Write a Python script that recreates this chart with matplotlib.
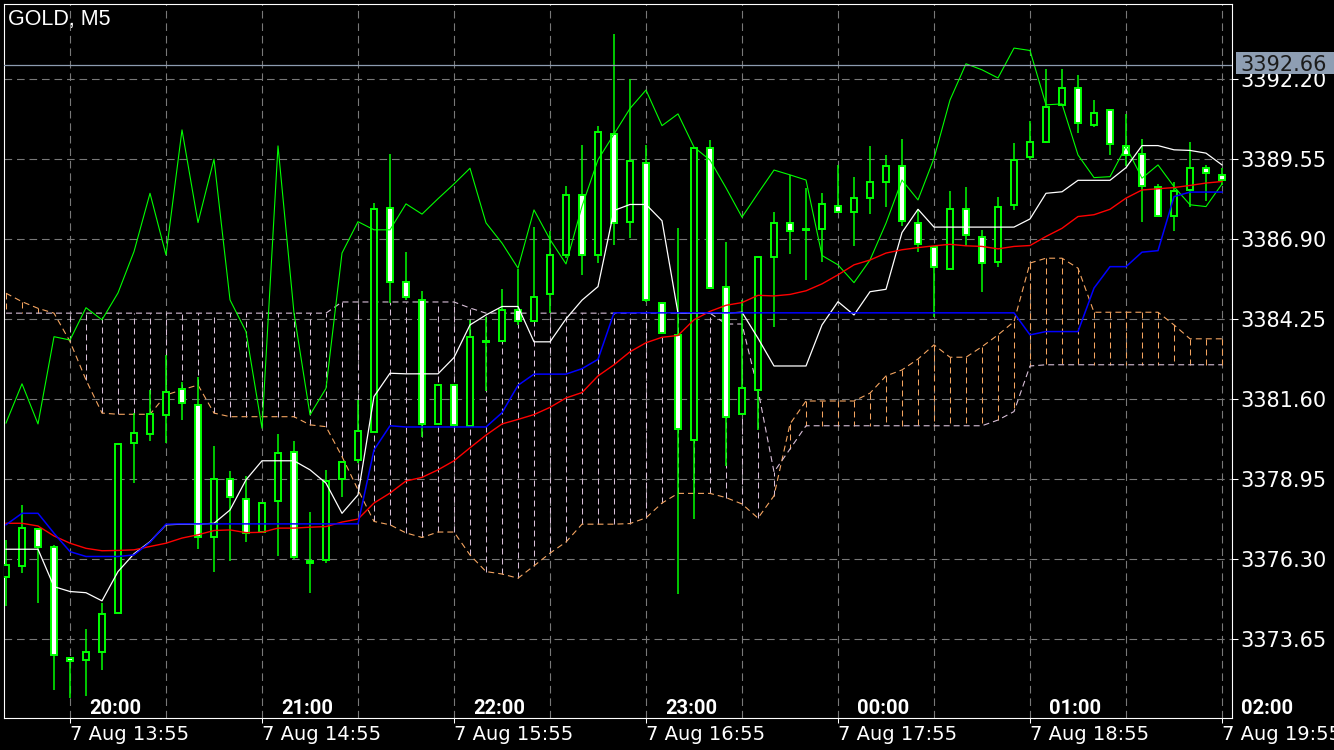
import matplotlib
matplotlib.use("Agg")
import matplotlib.pyplot as plt
from matplotlib.patches import Rectangle

# ---- data (GOLD, M5) ----
o = [3375.69, 3376.08, 3377.28, 3376.71, 3373.03, 3372.94, 3373.21, 3374.50, 3380.13, 3380.43,
     3381.05, 3381.92, 3381.39, 3377.04, 3378.94, 3378.28, 3377.18, 3378.22, 3379.83, 3376.23,
     3376.27, 3378.95, 3379.58, 3380.50, 3387.92, 3385.48, 3384.89, 3380.77, 3382.05, 3380.69,
     3383.50, 3383.52, 3384.56, 3384.17, 3385.09, 3386.37, 3388.35, 3386.37, 3390.37, 3387.46,
     3389.42, 3384.78, 3383.73, 3380.25, 3389.90, 3385.32, 3381.10, 3381.91, 3386.31, 3387.41,
     3387.20, 3387.22, 3388.00, 3387.80, 3388.24, 3388.78, 3389.31, 3387.42, 3386.64, 3385.90,
     3387.88, 3386.96, 3386.13, 3388.03, 3389.61, 3390.12, 3391.34, 3391.89, 3390.67, 3391.16,
     3389.98, 3389.71, 3388.61, 3387.66, 3388.51, 3389.24, 3389.03]
h = [3376.93, 3378.09, 3377.33, 3376.75, 3373.03, 3373.98, 3374.83, 3380.10, 3381.13, 3381.90,
     3383.06, 3382.17, 3382.34, 3380.04, 3379.22, 3379.05, 3378.17, 3380.44, 3380.21, 3377.85,
     3379.25, 3379.52, 3381.57, 3388.10, 3389.72, 3386.47, 3385.17, 3382.05, 3382.05, 3384.22,
     3384.32, 3385.23, 3385.91, 3387.31, 3387.17, 3388.66, 3390.00, 3390.64, 3393.70, 3392.20,
     3390.00, 3384.78, 3387.27, 3389.92, 3390.18, 3386.81, 3384.87, 3386.31, 3387.79, 3389.02,
     3388.58, 3388.41, 3389.35, 3388.96, 3389.98, 3389.68, 3390.20, 3387.89, 3386.64, 3388.47,
     3388.63, 3387.20, 3388.30, 3390.07, 3390.79, 3392.53, 3392.53, 3392.33, 3391.50, 3391.16,
     3391.04, 3390.21, 3388.72, 3388.77, 3390.12, 3389.35, 3389.24]
l = [3374.74, 3375.83, 3374.83, 3371.96, 3371.69, 3371.77, 3372.62, 3374.50, 3378.81, 3380.19,
     3380.13, 3380.90, 3376.62, 3375.88, 3376.24, 3376.87, 3377.18, 3376.38, 3376.29, 3375.16,
     3376.16, 3378.36, 3379.48, 3380.50, 3384.77, 3384.88, 3380.34, 3380.77, 3380.74, 3380.69,
     3381.87, 3383.50, 3384.05, 3384.15, 3384.45, 3386.27, 3385.72, 3386.09, 3386.70, 3386.92,
     3384.81, 3383.79, 3375.15, 3377.61, 3385.25, 3379.38, 3381.10, 3380.57, 3383.98, 3386.39,
     3385.54, 3386.15, 3387.75, 3386.65, 3387.73, 3387.94, 3387.34, 3386.48, 3384.31, 3385.90,
     3386.65, 3385.15, 3385.98, 3387.86, 3389.52, 3390.07, 3391.34, 3390.40, 3390.60, 3389.68,
     3389.30, 3387.47, 3387.66, 3387.17, 3387.97, 3388.14, 3388.67]
c = [3376.10, 3377.32, 3376.71, 3373.12, 3372.92, 3373.21, 3374.47, 3380.10, 3380.46, 3381.09,
     3381.84, 3381.46, 3377.02, 3378.94, 3378.34, 3377.15, 3378.15, 3379.80, 3376.36, 3376.16,
     3378.87, 3379.52, 3380.52, 3387.89, 3385.47, 3384.98, 3380.77, 3382.05, 3380.74, 3383.64,
     3383.52, 3384.56, 3384.19, 3384.96, 3386.37, 3388.35, 3386.36, 3390.45, 3387.43, 3389.48,
     3384.87, 3383.79, 3380.61, 3389.91, 3385.27, 3380.99, 3381.96, 3386.31, 3387.43, 3387.15,
     3387.22, 3388.05, 3387.79, 3388.25, 3388.78, 3389.31, 3387.49, 3386.72, 3385.96, 3387.88,
     3387.02, 3386.10, 3387.97, 3389.52, 3390.10, 3391.26, 3391.89, 3390.73, 3391.06, 3390.04,
     3389.69, 3388.66, 3387.66, 3388.48, 3389.24, 3389.08, 3388.85]

tenkan = [3377.48, 3377.48, 3377.39, 3377.06, 3376.82, 3376.65, 3376.57, 3376.58, 3376.60, 3376.71,
          3376.82, 3376.99, 3377.10, 3377.24, 3377.26, 3377.17, 3377.18, 3377.32, 3377.32, 3377.35,
          3377.37, 3377.52, 3377.62, 3378.15, 3378.48, 3378.88, 3379.00, 3379.25, 3379.55, 3379.98,
          3380.40, 3380.77, 3380.92, 3381.08, 3381.32, 3381.63, 3381.81, 3382.36, 3382.73, 3383.16,
          3383.46, 3383.64, 3383.70, 3384.22, 3384.50, 3384.70, 3384.79, 3385.03, 3385.01, 3385.06,
          3385.18, 3385.41, 3385.71, 3386.04, 3386.20, 3386.43, 3386.54, 3386.61, 3386.67, 3386.72,
          3386.67, 3386.65, 3386.57, 3386.65, 3386.68, 3386.98, 3387.25, 3387.64, 3387.70, 3387.88,
          3388.25, 3388.52, 3388.56, 3388.60, 3388.67, 3388.75, 3388.80]
kijun = [3377.43, 3377.81, 3377.81, 3377.15, 3376.54, 3376.38, 3376.38, 3376.38, 3376.43, 3376.85,
         3377.45, 3377.46, 3377.46, 3377.46, 3377.46, 3377.46, 3377.46, 3377.46, 3377.46, 3377.46,
         3377.46, 3377.46, 3377.46, 3379.91, 3380.71, 3380.67, 3380.67, 3380.67, 3380.67, 3380.67,
         3380.67, 3381.14, 3382.05, 3382.42, 3382.42, 3382.42, 3382.60, 3382.91, 3384.45, 3384.45,
         3384.45, 3384.45, 3384.45, 3384.45, 3384.45, 3384.45, 3384.45, 3384.45, 3384.45, 3384.45,
         3384.45, 3384.45, 3384.45, 3384.45, 3384.45, 3384.45, 3384.45, 3384.45, 3384.45, 3384.45,
         3384.45, 3384.45, 3384.45, 3384.45, 3383.72, 3383.83, 3383.83, 3383.83, 3385.27, 3385.98,
         3385.98, 3386.46, 3386.51, 3388.30, 3388.45, 3388.45, 3388.45]
chikou = [3380.80, 3382.10, 3380.77, 3383.66, 3383.55, 3384.62, 3384.22, 3385.11, 3386.48, 3388.41,
          3386.37, 3390.51, 3387.44, 3389.54, 3384.88, 3383.83, 3380.63, 3389.98, 3384.44, 3381.07,
          3381.95, 3386.43, 3387.47, 3387.20, 3387.20, 3388.06, 3387.72, 3388.23, 3388.72, 3389.24,
          3387.43, 3386.76, 3385.93, 3387.86, 3386.88, 3386.07, 3387.98, 3389.52, 3390.37, 3391.22,
          3391.83, 3390.65, 3391.04, 3389.94, 3389.51, 3388.59, 3387.62, 3388.41, 3389.18, 3389.02,
          3388.85, 3386.35, 3386.04, 3385.45, 3386.20, 3387.42, 3388.85, 3388.19, 3389.57, 3391.50,
          3392.70, 3392.50, 3392.23, 3393.22, 3393.14, 3391.34, 3391.37, 3389.68, 3388.93, 3388.96,
          3389.96, 3388.91, 3389.35, 3388.63, 3388.03, 3387.97, 3388.72]
white_line = [3376.62, 3376.62, 3376.62, 3375.38, 3375.22, 3375.18, 3374.91, 3375.88, 3376.47, 3376.87,
              3377.43, 3377.45, 3377.45, 3377.48, 3377.92, 3378.92, 3379.55, 3379.55, 3379.55, 3379.25,
              3378.81, 3377.81, 3378.42, 3381.68, 3382.45, 3382.43, 3382.43, 3382.43, 3382.97, 3384.05,
              3384.38, 3384.66, 3384.66, 3383.49, 3383.49, 3384.25, 3384.87, 3385.32, 3387.84, 3388.04,
              3388.04, 3387.50, 3384.44, 3384.44, 3384.44, 3384.44, 3384.47, 3383.61, 3382.69, 3382.69,
              3382.69, 3384.05, 3384.82, 3384.38, 3385.15, 3385.23, 3387.11, 3387.88, 3387.29, 3387.29,
              3387.29, 3387.29, 3387.29, 3387.29, 3387.56, 3388.41, 3388.46, 3388.84, 3388.84, 3388.84,
              3389.26, 3389.99, 3389.99, 3389.85, 3389.83, 3389.74, 3389.35]
span_a = [3385.10, 3384.82, 3384.60, 3384.44, 3383.50, 3382.23, 3381.13, 3381.09, 3381.09, 3381.09,
          3381.73, 3381.90, 3382.06, 3381.13, 3381.01, 3381.01, 3381.01, 3381.01, 3381.01, 3380.74,
          3380.68, 3379.69, 3378.59, 3377.54, 3377.43, 3377.16, 3377.01, 3377.19, 3377.19, 3376.43,
          3375.88, 3375.80, 3375.66, 3376.07, 3376.49, 3376.86, 3377.45, 3377.45, 3377.45, 3377.47,
          3377.66, 3378.15, 3378.47, 3378.47, 3378.47, 3378.33, 3378.12, 3377.65, 3378.39, 3380.77,
          3381.53, 3381.53, 3381.53, 3381.53, 3381.79, 3382.36, 3382.56, 3382.92, 3383.39, 3382.98,
          3382.98, 3383.33, 3383.72, 3384.16, 3386.10, 3386.26, 3386.26, 3385.93, 3384.47, 3384.47,
          3384.47, 3384.47, 3384.47, 3384.05, 3383.59, 3383.59, 3383.59]
span_b = [3384.44, 3384.44, 3384.44, 3384.44, 3384.44, 3384.44, 3384.44, 3384.44, 3384.44, 3384.44,
          3384.44, 3384.44, 3384.44, 3384.44, 3384.44, 3384.44, 3384.44, 3384.44, 3384.44, 3384.44,
          3384.44, 3384.81, 3384.81, 3384.81, 3384.81, 3384.81, 3384.81, 3384.81, 3384.81, 3384.61,
          3384.44, 3384.44, 3384.44, 3384.44, 3384.44, 3384.44, 3384.44, 3384.44, 3384.44, 3384.44,
          3384.44, 3384.44, 3384.44, 3384.44, 3384.44, 3384.08, 3384.08, 3381.90, 3379.18, 3379.94,
          3380.71, 3380.71, 3380.71, 3380.71, 3380.71, 3380.71, 3380.71, 3380.71, 3380.71, 3380.71,
          3380.71, 3380.71, 3380.90, 3381.18, 3382.69, 3382.73, 3382.73, 3382.73, 3382.73, 3382.73,
          3382.73, 3382.73, 3382.73, 3382.73, 3382.73, 3382.73, 3382.73]

levels = [3373.65, 3376.30, 3378.95, 3381.60, 3384.25, 3386.90, 3389.55, 3392.20]
last_price = 3392.66
hours = ["20:00", "21:00", "22:00", "23:00", "00:00", "01:00", "02:00"]
dates = ["7 Aug 13:55", "7 Aug 14:55", "7 Aug 15:55", "7 Aug 16:55",
         "7 Aug 17:55", "7 Aug 18:55", "7 Aug 19:55"]

# ---- drawing ----
plt.rcParams["lines.scale_dashes"] = False
W, H = 1334, 750
lime = "#00ff00"
sandy = "#f4a460"
thistle = "#d8bfd8"
gridc = "#787878"

fig = plt.figure(figsize=(W / 100, H / 100), dpi=100, facecolor="black")
ax = fig.add_axes([4 / W, 1 - 718 / H, 1228 / W, 714 / H], facecolor="black")
x = list(range(len(c)))
ax.set_xlim(-0.125, 76.625)
ax.set_ylim(3371.03, 3394.68)

for lv in levels:
    ax.axhline(lv, color=gridc, lw=0.8, ls=(0, (5.5, 3.5)), zorder=1)
for k in range(4, 77, 6):
    ax.axvline(k, color=gridc, lw=0.8, ls=(0, (5.5, 3.5)), zorder=1)

# cloud hatching and spans
hatch_cols = [sandy if a > b else thistle for a, b in zip(span_a, span_b)]
ax.vlines(x, span_a, span_b, colors=hatch_cols, lw=0.75,
          linestyles=[(0, (4.3, 2.9))], zorder=2)
ax.plot(x, span_a, color=sandy, lw=0.8, ls=(0, (4.3, 2.9)), zorder=3)
ax.plot(x, span_b, color=thistle, lw=0.8, ls=(0, (4.3, 2.9)), zorder=3)

# candles
ax.vlines(x, l, h, color=lime, lw=1.1, zorder=4)
bottoms = [min(a, b) for a, b in zip(o, c)]
heights = [max(abs(b - a), 0.01) for a, b in zip(o, c)]
faces = ["white" if b < a else "black" for a, b in zip(o, c)]
ax.bar(x, heights, bottom=bottoms, width=0.4, color=faces, edgecolor=lime,
       linewidth=1.4, zorder=5)

# ichimoku lines
ax.plot(x, chikou, color=lime, lw=0.8, zorder=6)
ax.plot(x, white_line, color="white", lw=0.9, zorder=6)
ax.plot(x, tenkan, color="#ff0000", lw=1.0, zorder=6)
ax.plot(x, kijun, color="#0000ff", lw=1.1, zorder=6)

ax.axhline(last_price, color="#8d9cb0", lw=0.9, zorder=7)

# axes, ticks
for sp in ax.spines.values():
    sp.set_color("white")
    sp.set_linewidth(0.8)
ax.yaxis.tick_right()
ax.set_yticks(levels)
ax.set_yticklabels([f"{v:.2f}" for v in levels])
ax.tick_params(axis="y", direction="out", length=4.3, width=0.75, colors="white",
               labelsize=15, pad=1.5)
ax.set_xticks(list(range(4, 77, 12)))
ax.set_xticklabels([])
ax.tick_params(axis="x", direction="out", length=3.5, width=0.75, colors="white")

# current price tag
fig.patches.append(Rectangle((1236 / W, 1 - 74 / H), 98 / W, 22 / H,
                             transform=fig.transFigure, facecolor="#8e9eb3",
                             edgecolor="none", zorder=2))
fig.text(1240 / W, 1 - 63 / H, f"{last_price:.2f}", color="#1c1c1c", fontsize=15,
         va="center_baseline", ha="left", zorder=3)

fig.text(8 / W, 1 - 20 / H, "GOLD, M5", color="white", fontsize=15.5,
         family=["Liberation Sans", "DejaVu Sans"], va="center", ha="left")

for i, t in enumerate(hours):
    fig.text((115 + 192 * i) / W, 1 - 708 / H, t, color="white", fontsize=14.5,
             weight="bold", family=["Roboto", "DejaVu Sans"], ha="center", va="center")
for i, t in enumerate(dates):
    fig.text((70 + 192 * i) / W, 1 - 734 / H, t, color="white", fontsize=14,
             family=["DejaVu Sans"], ha="left", va="center")

fig.savefig("out.png", dpi=100, facecolor="black")
